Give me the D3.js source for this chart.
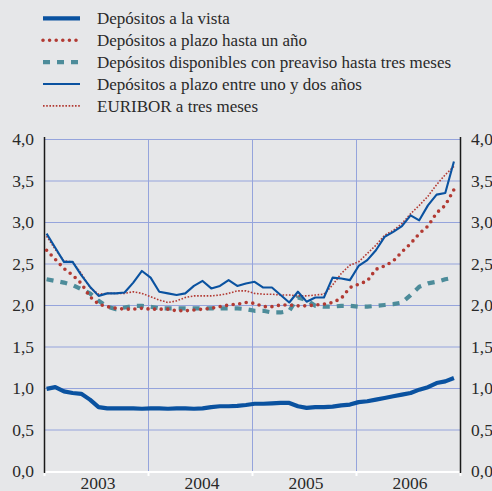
<!DOCTYPE html>
<html><head><meta charset="utf-8">
<script src="https://cdn.jsdelivr.net/npm/d3@7"></script>
</head><body style="margin:0;background:#e6e7e9">
<script>
// Monthly data, Jan 2003 – Dec 2006 (%)
const years = ["2003", "2004", "2005", "2006"];
const yTicks = [0, 0.5, 1, 1.5, 2, 2.5, 3, 3.5, 4];

const vista = [0.99,1.01,0.96,0.94,0.93,0.86,0.77,0.755,0.755,0.755,0.755,0.75,
  0.755,0.755,0.75,0.755,0.755,0.75,0.755,0.77,0.78,0.78,0.785,0.795,
  0.81,0.81,0.815,0.82,0.82,0.78,0.76,0.77,0.77,0.775,0.79,0.80,
  0.83,0.84,0.86,0.88,0.90,0.92,0.94,0.98,1.01,1.06,1.08,1.12];
const plazoAnio = [2.66,2.55,2.44,2.36,2.26,2.10,2.01,1.98,1.96,1.95,1.95,1.96,
  1.95,1.95,1.95,1.93,1.93,1.94,1.95,1.96,1.98,2.00,2.01,2.03,
  2.02,1.98,1.98,2.00,2.00,1.99,1.99,2.00,2.01,2.03,2.08,2.21,
  2.25,2.29,2.43,2.47,2.53,2.64,2.74,2.86,2.95,3.11,3.20,3.39];
const preaviso = [2.31,2.29,2.27,2.24,2.19,2.14,2.05,1.98,1.95,1.97,1.99,1.99,
  1.98,1.96,1.96,1.96,1.96,1.96,1.96,1.96,1.96,1.96,1.96,1.95,
  1.93,1.93,1.91,1.91,1.93,2.09,2.06,1.99,1.98,1.98,1.99,1.99,
  1.98,1.98,1.99,2.00,2.01,2.03,2.12,2.22,2.26,2.28,2.31,2.33];
const plazoUnoDos = [2.86,2.69,2.52,2.52,2.36,2.22,2.11,2.14,2.14,2.15,2.27,2.41,
  2.33,2.16,2.14,2.12,2.14,2.23,2.29,2.20,2.23,2.30,2.23,2.26,
  2.28,2.21,2.21,2.12,2.03,2.16,2.04,2.09,2.09,2.33,2.32,2.30,
  2.47,2.54,2.66,2.82,2.88,2.95,3.08,3.02,3.20,3.33,3.35,3.73];
const euribor = [2.83,2.67,2.53,2.52,2.38,2.21,2.13,2.14,2.14,2.14,2.16,2.14,
  2.10,2.06,2.03,2.05,2.09,2.11,2.11,2.11,2.12,2.14,2.17,2.17,
  2.14,2.13,2.13,2.12,2.12,2.11,2.11,2.12,2.13,2.24,2.38,2.48,
  2.52,2.62,2.72,2.84,2.90,2.98,3.10,3.20,3.31,3.45,3.57,3.67];

const seriesNames = ["Depósitos a la vista", "Depósitos a plazo hasta un año",
  "Depósitos disponibles con preaviso hasta tres meses",
  "Depósitos a plazo entre uno y dos años", "EURIBOR a tres meses"];

const BLUE = "#0a52a0", RED = "#b23a33", TEAL = "#4d8c9a";
const series = [
  {name: seriesNames[0], values: vista, color: BLUE, width: 4.2, dash: null, cap: "butt"},
  {name: seriesNames[1], values: plazoAnio, color: RED, width: 3.6, dash: "0 6.6", cap: "round"},
  {name: seriesNames[2], values: preaviso, color: TEAL, width: 4.2, dash: "7 7", cap: "butt"},
  {name: seriesNames[3], values: plazoUnoDos, color: BLUE, width: 2.1, dash: null, cap: "butt"},
  {name: seriesNames[4], values: euribor, color: RED, width: 1.6, dash: "1.6 1.6", cap: "butt"}
];

const W = 492, H = 491;
const svg = d3.select("body").append("svg").attr("width", W).attr("height", H).style("display", "block");
svg.append("rect").attr("width", W).attr("height", H).attr("fill", "#e6e7e9");

const x = d3.scaleLinear().domain([0, 48]).range([44, 460]);
const y = d3.scaleLinear().domain([0, 4]).range([471, 139]);
const OFF = 0.3;
const fmt = d3.formatLocale({decimal: ",", thousands: ".", grouping: [3], currency: ["", "€"]}).format(".1f");
const TXT = "#2a2a2a";
const FONT = '"Liberation Serif"';

// gridlines
const grid = svg.append("g");
grid.selectAll("line.h").data(yTicks.filter(d => d > 0)).join("line")
  .attr("x1", x(0)).attr("x2", x(48)).attr("y1", d => y(d) + 0.5).attr("y2", d => y(d) + 0.5)
  .attr("stroke", "#95a4dc").attr("stroke-width", 1);
grid.selectAll("line.v").data([12, 24, 36]).join("line")
  .attr("x1", d => x(d) + 0.5).attr("x2", d => x(d) + 0.5).attr("y1", y(4)).attr("y2", y(0))
  .attr("stroke", "#95a4dc").attr("stroke-width", 1);

// bottom axis (white)
const xAxis = d3.axisBottom(x).tickValues([0, 12, 24, 36, 48]).tickSize(4).tickFormat("");
const gx = svg.append("g").attr("transform", `translate(0,${y(0) + 1})`).call(xAxis);
gx.select(".domain").attr("stroke", "#ffffff").attr("stroke-width", 2).attr("d", `M${x(0)},0H${x(48)}`);
gx.selectAll(".tick line").attr("stroke", "#ffffff").attr("stroke-width", 2);

// year labels
years.forEach((t, i) => {
  svg.append("text").attr("x", x(i * 12 + 6) + 2).attr("y", 488.5)
    .attr("text-anchor", "middle").style("font-size", "17.5px").style("font-family", FONT)
    .attr("fill", TXT).text(t);
});

// left and right axis lines
[x(0), x(48)].forEach(px => {
  svg.append("line").attr("x1", px + 0.5).attr("x2", px + 0.5).attr("y1", y(4) - 2).attr("y2", y(0) + 2)
    .attr("stroke", "#1a1a1a").attr("stroke-width", 1.5);
});

// y labels
yTicks.forEach(v => {
  svg.append("text").attr("x", 34).attr("y", y(v) + 6).attr("text-anchor", "end")
    .style("font-size", "17.5px").style("font-family", FONT).attr("fill", TXT).text(fmt(v));
  svg.append("text").attr("x", 471).attr("y", y(v) + 6).attr("text-anchor", "start")
    .style("font-size", "17.5px").style("font-family", FONT).attr("fill", TXT).text(fmt(v));
});

// series lines
const line = d3.line().x((d, i) => x(i + OFF)).y(d => y(d));
const order = [2, 1, 4, 3, 0];
order.forEach(k => {
  const s = series[k];
  svg.append("path").datum(s.values).attr("d", line)
    .attr("fill", "none").attr("stroke", s.color).attr("stroke-width", s.width)
    .attr("stroke-dasharray", s.dash).attr("stroke-linecap", s.cap).attr("stroke-linejoin", "round");
});

// legend
series.forEach((s, i) => {
  const ly = 18.3 + i * 21.9;
  svg.append("line").attr("x1", 43).attr("x2", 80).attr("y1", ly).attr("y2", ly)
    .attr("stroke", s.color).attr("stroke-width", s.width)
    .attr("stroke-dasharray", s.dash).attr("stroke-linecap", s.cap);
  svg.append("text").attr("x", 97).attr("y", ly + 5.6)
    .style("font-size", "17px").style("font-family", FONT)
    .attr("fill", TXT).text(s.name);
});
</script>
</body></html>
